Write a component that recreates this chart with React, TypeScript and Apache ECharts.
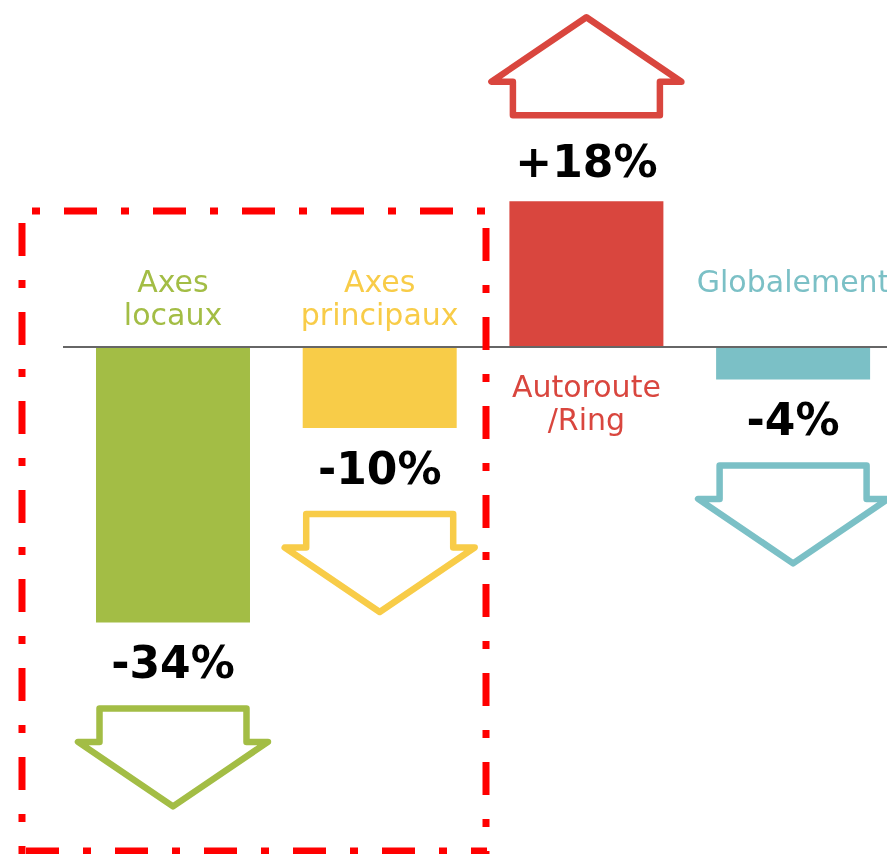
import React, { useEffect, useRef } from "react";
import * as echarts from "echarts";

const categories = ["Axes\nlocaux", "Axes\nprincipaux", "Autoroute\n/Ring", "Globalement"];
const values = [-34, -10, 18, -4];
const palette = ["#a3bd45", "#f8cc48", "#d9463e", "#7bc0c6"];

export default function App() {
  const ref = useRef<HTMLDivElement>(null);
  useEffect(() => {
    if (!ref.current) return;
    const chart = echarts.init(ref.current, null, { renderer: "svg" });
    const dash = { stroke: "#ff0000", lineWidth: 7, lineDash: [33, 24, 8, 24] };
    chart.setOption({
      animation: false,
      grid: { left: 69.65, right: -9.45, top: 23, bottom: 21, outerBoundsMode: "none" },
      xAxis: { type: "category", data: categories, show: false },
      yAxis: { type: "value", min: -60, max: 40, show: false },
      series: [
        {
          type: "custom",
          data: values.map((v, i) => [i, v]),
          renderItem: (params: any, api: any) => {
            const i = api.value(0);
            const v = api.value(1);
            const base = api.coord([i, 0]);
            const end = api.coord([i, v]);
            const bw = api.size([1, 0])[0] * 0.745;
            const cx = base[0];
            const dir = v < 0 ? 1 : -1;
            const color = palette[params.dataIndex];
            const children: any[] = [];
            if (params.dataIndex === 0) {
              children.push({
                type: "line",
                shape: { x1: cx - bw / 2 - 33, y1: base[1], x2: api.getWidth(), y2: base[1] },
                style: { stroke: "#666666", lineWidth: 2 },
                z2: 5,
              });
            }
            children.push({
              type: "rect",
              shape: { x: cx - bw / 2, y: Math.min(base[1], end[1]) + (v < 0 ? 1 : 0), width: bw, height: Math.abs(end[1] - base[1]) - 1 },
              style: { fill: color },
              z2: 4,
            });
            children.push({
              type: "text",
              style: {
                text: (v > 0 ? "+" : "") + v + "%",
                x: cx,
                y: end[1] + dir * 40,
                align: "center",
                verticalAlign: "middle",
                fill: "#000000",
                fontFamily: "DejaVu Sans",
                fontWeight: "bold",
                fontSize: 44,
              },
            });
            children.push({
              type: "text",
              style: {
                text: categories[params.dataIndex],
                x: cx,
                y: v < 0 ? base[1] - 82 : base[1] + 23,
                align: "center",
                verticalAlign: "top",
                lineHeight: 33,
                fill: color,
                fontFamily: "DejaVu Sans",
                fontSize: 30,
              },
            });
            const hw = bw / 2 - 3.5;
            const ww = bw / 2 + 18;
            const s0 = end[1] + dir * 86;
            const s1 = end[1] + dir * 119.5;
            const tip = end[1] + dir * 184;
            children.push({
              type: "polygon",
              shape: {
                points: [
                  [cx - hw, s0],
                  [cx + hw, s0],
                  [cx + hw, s1],
                  [cx + ww, s1],
                  [cx, tip],
                  [cx - ww, s1],
                  [cx - hw, s1],
                ],
              },
              style: { fill: "none", stroke: color, lineWidth: 6.5, lineJoin: "round" },
            });
            return { type: "group", children };
          },
        },
      ],
      graphic: [
        { type: "line", z: 100, shape: { x1: 22, y1: 211, x2: 487, y2: 211 }, style: { ...dash, lineDashOffset: 47 } },
        { type: "line", z: 100, shape: { x1: 22, y1: 211, x2: 22, y2: 854 }, style: { ...dash, lineDashOffset: 77 } },
        { type: "line", z: 100, shape: { x1: 486, y1: 211, x2: 486, y2: 854 }, style: { ...dash, lineDashOffset: 72 } },
        { type: "line", z: 100, shape: { x1: 22, y1: 851, x2: 487, y2: 851 }, style: { ...dash, lineDashOffset: 85 } },
      ],
    });
    return () => chart.dispose();
  }, []);
  return <div ref={ref} style={{ position: "fixed", left: 0, top: 0, width: 887, height: 854 }} />;
}
